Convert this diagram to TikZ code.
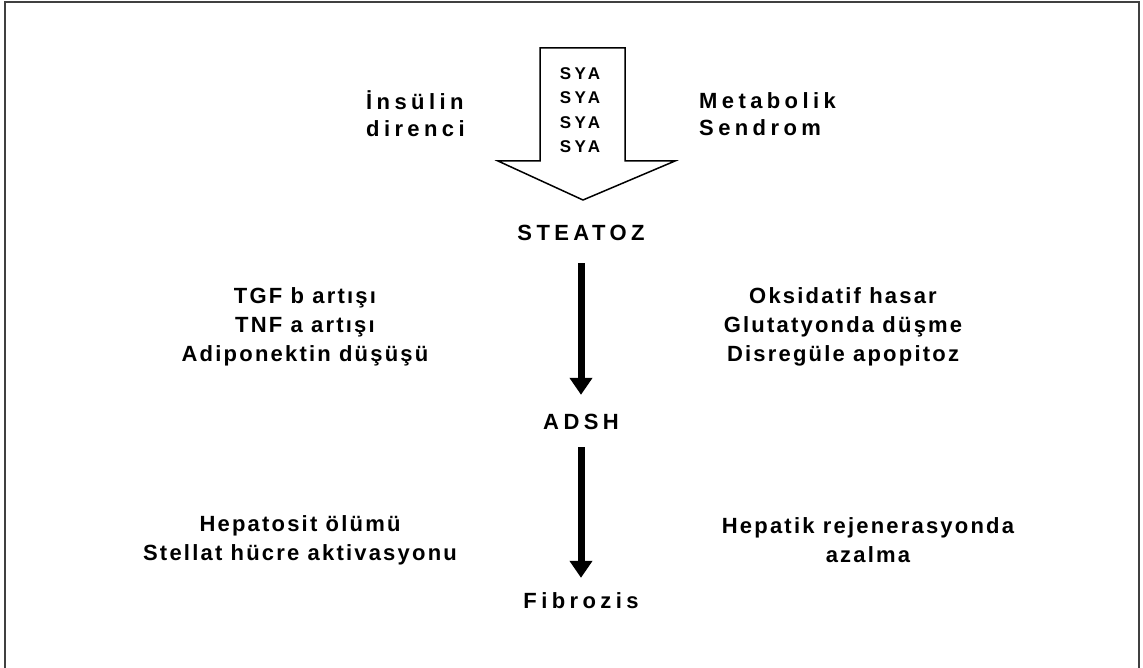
\documentclass[tikz,border=0pt]{standalone}
\usepackage{fontspec}
\setmainfont{Liberation Sans}[LetterSpace=20]
\newfontfamily\sidefont{Liberation Sans}[LetterSpace=10]
\usetikzlibrary{arrows.meta}

\begin{document}
\begin{tikzpicture}[x=1pt,y=-1pt,
  stage/.style={font=\fontsize{22}{29}\selectfont\bfseries,text height=16pt,text depth=0pt,inner sep=0pt},
  lbl/.style={font=\sidefont\fontsize{22}{29}\selectfont\bfseries,align=center,inner sep=0pt},
  side/.style={font=\fontsize{22}{27}\selectfont\bfseries,align=left,anchor=west,inner sep=0pt},
  flow/.style={line width=7pt,-{Triangle[width=22pt,length=17pt]}}]
\useasboundingbox (0,0) rectangle (1143,668);
\draw[line width=1.5pt,black!75] (5,680) -- (5,2) -- (1139,2) -- (1139,680);
% block arrow
\draw[line width=1.5pt,fill=white] (540,48) -- (625,48) -- (625,161) -- (675,161) -- (583,200)
  -- (498,161) -- (540,161) -- cycle;
\node[font=\fontsize{17}{24.5}\selectfont\bfseries,align=center,inner sep=0pt] (sya) at (580,110) {SYA\\SYA\\SYA\\SYA};
\node[side] (insulin) at (366,114) {İnsülin\\direnci};
\node[side] (metab) at (699,114) {Metabolik\\Sendrom};
\node[stage] (steatoz) at (581,233) {STEATOZ};
\node[stage] (adsh) at (581,421) {ADSH};
\node[stage] (fibrozis) at (581,600.5) {Fibrozis};
\node[lbl] (tgf) at (305,326.5) {TGF b artışı\\TNF a artışı\\Adiponektin düşüşü};
\node[lbl] (oks) at (843,326.5) {Oksidatif hasar\\Glutatyonda düşme\\Disregüle apopitoz};
\node[lbl] (hepl) at (300,540.5) {Hepatosit ölümü\\Stellat hücre aktivasyonu};
\node[lbl] (hepr) at (868,540.5) {Hepatik rejenerasyonda\\azalma};
\draw[flow,shorten <=22pt,shorten >=18pt] (steatoz) -- (adsh);
\draw[flow,shorten <=18pt,shorten >=14.5pt] (adsh) -- (fibrozis);
\end{tikzpicture}
\end{document}
